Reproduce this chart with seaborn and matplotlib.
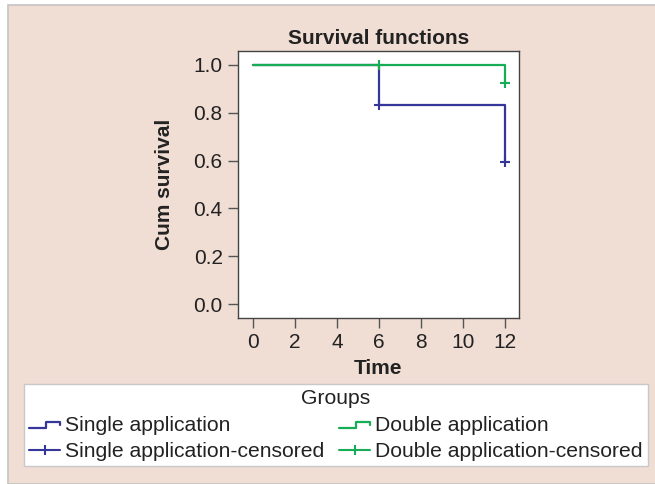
import matplotlib
matplotlib.use("Agg")
import matplotlib.pyplot as plt
import seaborn as sns
import pandas as pd
import numpy as np
from matplotlib.lines import Line2D
from matplotlib.legend_handler import HandlerBase
from matplotlib.patches import Rectangle

# ---- data ----
groups = ["Single application", "Double application"]
single_time = [0, 6, 12]
single_surv = [1.0, 0.833, 0.595]
double_time = [0, 12]
double_surv = [1.0, 0.925]
single_cens_time = [6, 12]
single_cens_surv = [0.833, 0.595]
double_cens_time = [6, 12]
double_cens_surv = [1.0, 0.925]
x_ticks = [0, 2, 4, 6, 8, 10, 12]
y_ticks = [0.0, 0.2, 0.4, 0.6, 0.8, 1.0]

colors = {"Single application": "#35359a", "Double application": "#17ad57"}
bg = "#f0ddd4"
FS = 15
LFS = 15.2

sns.set_theme(style="white")
plt.rcParams["font.family"] = ["Liberation Sans", "DejaVu Sans"]

curves = pd.DataFrame({
    "Time": single_time + double_time,
    "Surv": single_surv + double_surv,
    "Group": [groups[0]] * len(single_time) + [groups[1]] * len(double_time),
})
cens = pd.DataFrame({
    "Time": single_cens_time + double_cens_time,
    "Surv": single_cens_surv + double_cens_surv,
    "Group": [groups[0]] * len(single_cens_time) + [groups[1]] * len(double_cens_time),
})

fig = plt.figure(figsize=(6.55, 4.84), dpi=100)
fig.patch.set_facecolor("white")
# pink panel with grey left/top border
fig.patches.append(Rectangle((8 / 655, 0), 1, 1 - 5 / 484, transform=fig.transFigure,
                             facecolor=bg, edgecolor="#c4c4c4", linewidth=1.2, zorder=-10))

ax = fig.add_axes([238 / 655, 1 - 318 / 484, 281 / 655, 267 / 484])
ax.set_facecolor("white")

sns.lineplot(data=curves, x="Time", y="Surv", hue="Group", palette=colors,
             estimator=None, drawstyle="steps-post", linewidth=1.6, ax=ax, legend=False)
sns.scatterplot(data=cens, x="Time", y="Surv", hue="Group", palette=colors,
                marker="+", s=50, linewidth=1.5, ax=ax, legend=False, zorder=5)

ax.set_xlim(-0.71, 12.67)
ax.set_ylim(-0.058, 1.058)
ax.set_xticks(x_ticks)
ax.set_yticks(y_ticks)
ax.set_yticklabels([f"{v:.1f}" for v in y_ticks])
ax.tick_params(axis="both", which="both", direction="out", length=7, width=1,
               color="#555555", labelsize=FS, labelcolor="#222222", pad=4,
               bottom=True, left=True)
for s in ax.spines.values():
    s.set_visible(True)
    s.set_color("#444444")
    s.set_linewidth(1.0)

ax.set_xlabel("Time", fontsize=FS, fontweight="bold", color="#222222", labelpad=5)
ax.set_ylabel("Cum survival", fontsize=FS, fontweight="bold", color="#222222", labelpad=14)
ax.set_title("Survival functions", fontsize=FS, fontweight="bold", color="#222222", pad=5)


class StepHandler(HandlerBase):
    def __init__(self, color):
        super().__init__()
        self.color = color

    def create_artists(self, legend, orig_handle, xdescent, ydescent, width, height,
                       fontsize, trans):
        xs = np.array([0, 0.55, 0.55, 1.0, 1.0]) * width - xdescent
        ys = np.array([0.15, 0.15, 0.62, 0.62, 0.35]) * height - ydescent
        ln = Line2D(xs, ys, color=self.color, linewidth=1.6, transform=trans)
        return [ln]


h_single = Line2D([], [], color=colors[groups[0]])
h_double = Line2D([], [], color=colors[groups[1]])
h_scen = Line2D([], [], color=colors[groups[0]], linewidth=1.5, marker="|",
                markersize=7.5, markeredgewidth=1.5)
h_dcen = Line2D([], [], color=colors[groups[1]], linewidth=1.5, marker="|",
                markersize=7.5, markeredgewidth=1.5)

handles = [h_single, h_scen, h_double, h_dcen]
labels = [groups[0], groups[0] + "-censored", groups[1], groups[1] + "-censored"]

leg = fig.legend(handles, labels, title="Groups", ncol=2, loc="upper left",
                 bbox_to_anchor=(24 / 655, 1 - 467 / 484, 624 / 655, 83 / 484),
                 mode="expand", borderaxespad=0, fontsize=LFS, title_fontsize=LFS,
                 frameon=True, fancybox=False, framealpha=1, edgecolor="#c8c8c8",
                 handlelength=1.45, handletextpad=0.25, columnspacing=0.3,
                 labelspacing=0.35, borderpad=0.25,
                 handler_map={h_single: StepHandler(colors[groups[0]]),
                              h_double: StepHandler(colors[groups[1]])})
leg.get_frame().set_linewidth(1.0)
for t in leg.get_texts():
    t.set_color("#222222")
leg.get_title().set_color("#222222")

fig.savefig("out.png", dpi=100, facecolor=fig.get_facecolor())
